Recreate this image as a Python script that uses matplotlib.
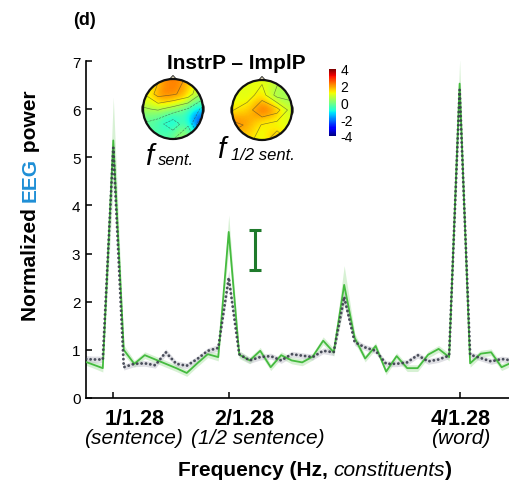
import numpy as np
import matplotlib
matplotlib.use('Agg')
import matplotlib.pyplot as plt
from matplotlib.patches import Circle, Polygon, Ellipse
from matplotlib.cm import ScalarMappable
from matplotlib.colors import Normalize

plt.rcParams['font.family'] = ['Liberation Sans', 'DejaVu Sans']
plt.rcParams['axes.unicode_minus'] = False

W, H = 510, 481

# frequency bins: 1/1.28 Hz falls on every 11th bin
bin_index = np.arange(8, 50)
freq = bin_index / 14.08

# InstrP (green, solid) and ImplP (dark, dotted) spectra
instr_power = [0.78, 0.70, 0.62, 5.35, 1.00, 0.71, 0.89, 0.80, 0.71, 0.62,
               0.52, 0.72, 0.91, 0.85, 3.45, 0.90, 0.78, 0.98, 0.64, 0.89,
               0.78, 0.74, 0.86, 1.19, 0.95, 2.35, 1.25, 0.82, 1.08, 0.55,
               0.87, 0.62, 0.62, 0.90, 1.02, 0.85, 6.53, 0.72, 0.92, 0.95,
               0.64, 0.74]
instr_sem = [0.07, 0.07, 0.08, 0.90, 0.10, 0.07, 0.07, 0.07, 0.07, 0.07,
             0.07, 0.07, 0.07, 0.08, 0.35, 0.08, 0.07, 0.07, 0.07, 0.07,
             0.07, 0.07, 0.07, 0.08, 0.08, 0.40, 0.10, 0.07, 0.07, 0.07,
             0.07, 0.07, 0.07, 0.07, 0.07, 0.08, 0.50, 0.08, 0.07, 0.07,
             0.07, 0.07]
impl_power = [0.82, 0.80, 0.80, 5.20, 0.64, 0.71, 0.72, 0.68, 0.95, 0.71,
              0.67, 0.81, 0.98, 1.04, 2.50, 0.91, 0.78, 0.85, 0.87, 0.78,
              0.91, 0.88, 0.85, 0.98, 0.95, 2.10, 1.16, 1.05, 0.98, 0.71,
              0.71, 0.74, 0.89, 0.76, 0.80, 0.88, 6.40, 0.90, 0.83, 0.76,
              0.81, 0.78]
impl_sem = [0.07, 0.07, 0.07, 0.20, 0.06, 0.06, 0.06, 0.06, 0.07, 0.06,
            0.06, 0.06, 0.06, 0.07, 0.15, 0.06, 0.06, 0.06, 0.06, 0.06,
            0.06, 0.06, 0.06, 0.06, 0.07, 0.15, 0.07, 0.06, 0.06, 0.06,
            0.06, 0.06, 0.06, 0.06, 0.06, 0.06, 0.20, 0.06, 0.06, 0.06,
            0.06, 0.06]

tick_freqs = [1 / 1.28, 2 / 1.28, 4 / 1.28]
tick_labels = ['1/1.28', '2/1.28', '4/1.28']
tick_names = ['(sentence)', '(1/2 sentence)', '(word)']
label_shift = [21, 16, 1]
name_shift = [20, 29, 1]

scale_bar = (2.66, 3.48)

# topographies (InstrP - ImplP), coarse grid, rows top->bottom
topo_sent = [[0.9, 1.9, 2.3, 1.9, 0.9],
             [1.2, 2.3, 2.1, 1.7, 0.3],
             [0.4, 0.6, 0.2, -0.3, -1.2],
             [-0.3, -0.7, -1.5, -0.4, -2.8],
             [-0.3, -0.5, -0.3, 0.6, -1.2]]
topo_half = [[1.0, 1.0, 1.1, 0.7, 0.5],
             [1.1, 0.9, 1.6, 0.2, 0.3],
             [1.2, 1.6, 2.7, 2.3, 0.8],
             [2.3, 1.9, 1.2, 0.9, 1.0],
             [1.6, 1.5, 0.9, 1.8, 1.1]]
cbar_ticks = [4, 2, 0, -2, -4]


def px_box(x0, y0, x1, y1):
    return [x0 / W, 1 - y1 / H, (x1 - x0) / W, (y1 - y0) / H]


fig = plt.figure(figsize=(W / 100, H / 100), dpi=100)
ax = fig.add_axes(px_box(86, 62, 510, 399))

green = '#45bb3f'
ax.fill_between(freq, np.array(instr_power) - instr_sem,
                np.array(instr_power) + instr_sem,
                color='#a8e0a0', alpha=0.45, lw=0, zorder=1)
ax.fill_between(freq, np.array(impl_power) - impl_sem,
                np.array(impl_power) + impl_sem,
                color='#b8b8c4', alpha=0.45, lw=0, zorder=1)
ax.plot(freq, instr_power, color=green, lw=1.3, zorder=3)
ax.plot(freq, impl_power, color='#3a3e4c', lw=2.1, ls=(0, (0.01, 1.5)),
        dash_capstyle='round', alpha=0.9, zorder=4)

# scale bar
ax.errorbar([1.74], [np.mean(scale_bar)], yerr=[[np.diff(scale_bar)[0] / 2]],
            color='#1f7a2c', lw=2.2, capsize=4.5, capthick=2.2, zorder=5)

ax.set_xlim(8.4 / 14.08, 48.8 / 14.08)
ax.set_ylim(0, 7)
ax.set_yticks(range(0, 8))
ax.set_xticks(tick_freqs)
ax.set_xticklabels([])
for s in ['top', 'right']:
    ax.spines[s].set_visible(False)
for s in ['left', 'bottom']:
    ax.spines[s].set_linewidth(1.2)
ax.tick_params(direction='in', length=4, width=1.1, labelsize=11, pad=4)

for f, lab, nm, d1, d2 in zip(tick_freqs, tick_labels, tick_names,
                              label_shift, name_shift):
    ax.annotate(lab, xy=(f, 0), xycoords=('data', 'axes fraction'),
                xytext=(d1, -26), textcoords='offset pixels',
                ha='center', va='baseline', fontsize=15.5, weight='bold')
    ax.annotate(nm, xy=(f, 0), xycoords=('data', 'axes fraction'),
                xytext=(d2, -45), textcoords='offset pixels',
                ha='center', va='baseline', fontsize=15, style='italic')

# x label with italic part
t1 = fig.text(178 / W, 1 - 476 / H, 'Frequency (Hz, ', fontsize=15,
              weight='bold', ha='left', va='baseline')
t2 = ax.annotate('constituents', xy=(1, 1 - 476 / H),
                 xycoords=(t1, 'figure fraction'), fontsize=15,
                 style='italic', ha='left', va='baseline')
ax.annotate(')', xy=(1, 1 - 476 / H), xycoords=(t2, 'figure fraction'),
            fontsize=15, weight='bold', ha='left', va='baseline')

# y label with coloured EEG
y1 = fig.text(35.5 / W, 1 - 321 / H, 'Normalized ', fontsize=15,
              weight='bold', rotation=90, rotation_mode='anchor',
              ha='left', va='baseline')
y2 = ax.annotate('EEG', xy=(35.5 / W, 1), xycoords=('figure fraction', y1),
                 fontsize=15, weight='bold', color='#1f8fd6', rotation=90,
                 rotation_mode='anchor', ha='left', va='baseline')
ax.annotate(' power', xy=(35.5 / W, 1), xycoords=('figure fraction', y2),
            fontsize=15, weight='bold', rotation=90, rotation_mode='anchor',
            ha='left', va='baseline')

fig.text(73 / W, 1 - 25 / H, '(d)', fontsize=13, weight='bold',
         ha='left', va='baseline')

# topographies
fig.text(236 / W, 1 - 69 / H, 'InstrP \u2013 ImplP', fontsize=15,
         weight='bold', ha='center', va='baseline')

cmap = plt.get_cmap('jet')
norm = Normalize(-4, 4)


def draw_topo(cx, cy, vals):
    half = 30 * 1.18
    tax = fig.add_axes(px_box(cx - half, cy - half, cx + half, cy + half))
    arr = np.array(vals)
    im = tax.imshow(arr, extent=(-1, 1, -1, 1), cmap=cmap, norm=norm,
                    interpolation='bicubic', origin='upper', zorder=1)
    im.set_clip_path(Circle((0, 0), 1, transform=tax.transData))
    g = np.linspace(-1, 1, arr.shape[0])
    cs = tax.contour(g, g, arr[::-1], levels=np.arange(-4, 4.1, 0.75),
                     colors='#333333', linewidths=0.45, alpha=0.6, zorder=2)
    cs.set_clip_path(Circle((0, 0), 1, transform=tax.transData))
    tax.add_patch(Polygon([[-0.12, 0.99], [0, 1.12], [0.12, 0.99]],
                          closed=True, fc='#e8e0c0', ec='#222222', lw=0.6,
                          zorder=0))
    for side in (-1, 1):
        tax.add_patch(Ellipse((side * 1.0, 0), 0.1, 0.3, fc='#d8d0b0',
                              ec='#444444', lw=0.5, zorder=0))
    tax.add_patch(Circle((0, 0), 1, fill=False, ec='#111111', lw=1.6,
                         zorder=3))
    tax.set_xlim(-1.18, 1.18)
    tax.set_ylim(-1.18, 1.18)
    tax.set_aspect('equal')
    tax.axis('off')


draw_topo(173, 110, topo_sent)
draw_topo(262, 111, topo_half)

fig.text(145 / W, 1 - 165 / H, 'f', fontsize=21, style='italic',
         ha='left', va='baseline')
fig.text(158 / W, 1 - 165 / H, 'sent.', fontsize=12, style='italic',
         ha='left', va='baseline')
fig.text(217 / W, 1 - 158 / H, 'f', fontsize=21, style='italic',
         ha='left', va='baseline')
fig.text(231 / W, 1 - 160 / H, '1/2 sent.', fontsize=12, style='italic',
         ha='left', va='baseline')

cax = fig.add_axes(px_box(329, 70, 336, 137))
cb = fig.colorbar(ScalarMappable(norm=norm, cmap=cmap), cax=cax,
                  ticks=cbar_ticks)
cb.outline.set_visible(False)
cax.tick_params(length=0, labelsize=10, pad=3)

fig.savefig('out.png', dpi=100)
